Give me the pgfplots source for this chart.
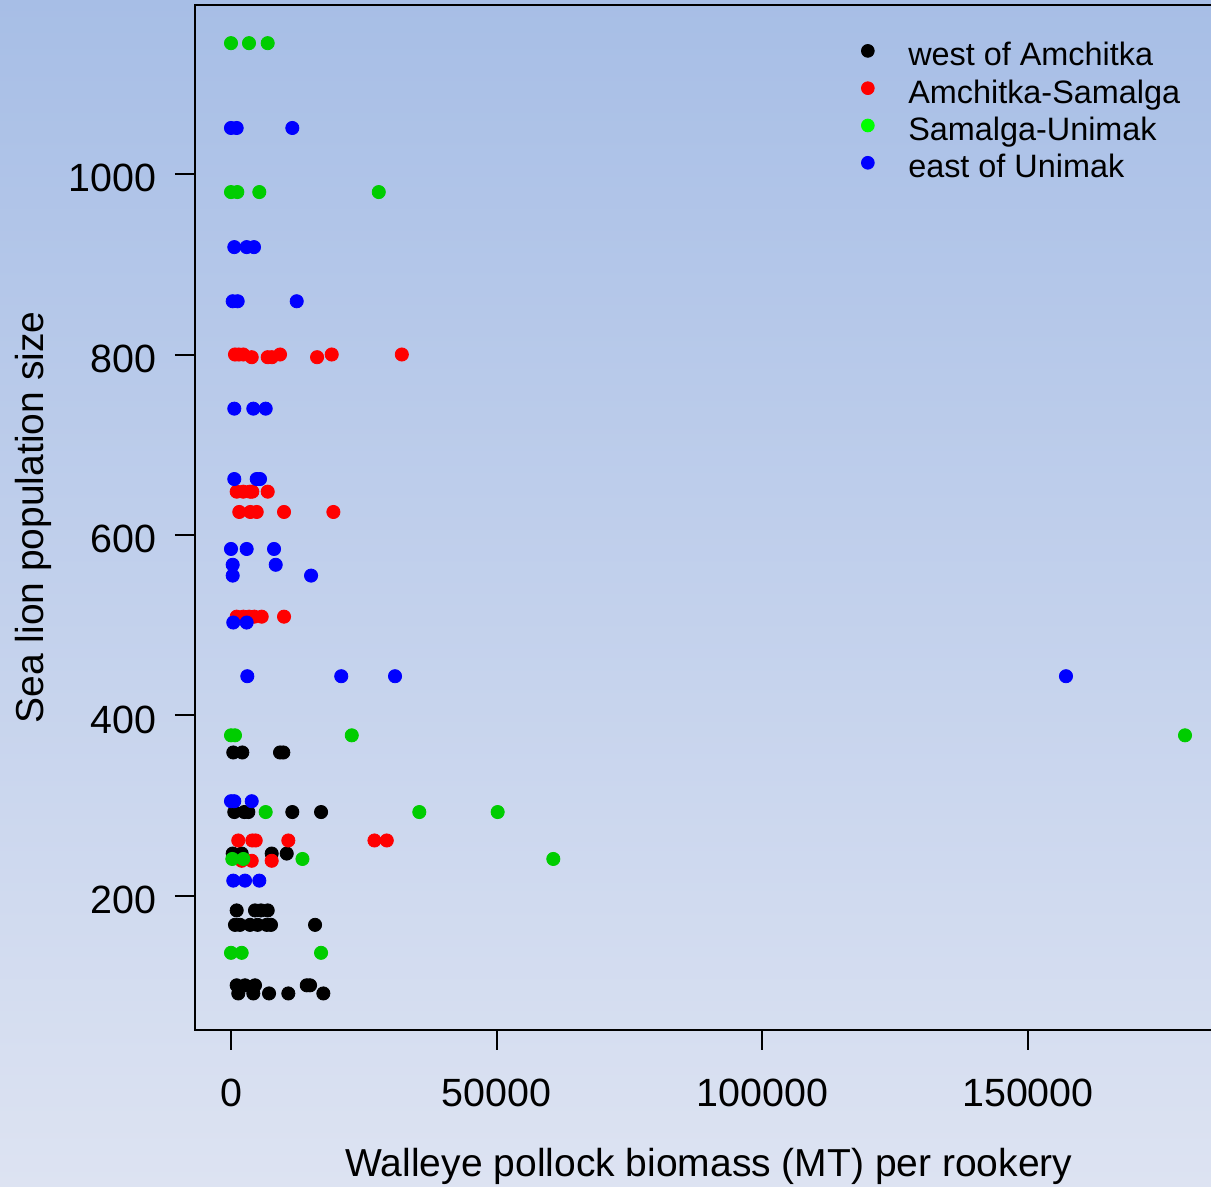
\documentclass[border=0pt]{standalone}
\usepackage{fontspec}
\setmainfont{Liberation Sans}
\usepackage{pgfplots}
\pgfplotsset{compat=1.18}
\definecolor{bgtop}{RGB}{167,190,230}
\definecolor{bgbot}{RGB}{221,227,242}
\definecolor{rgreen}{RGB}{0,205,0}
\definecolor{lgreen}{RGB}{0,255,0}
\definecolor{rred}{RGB}{255,0,0}
\definecolor{rblue}{RGB}{0,0,255}
\begin{document}
\begin{tikzpicture}
\path[use as bounding box] (0,0) rectangle (605.5pt,593.5pt);
\clip (0,0) rectangle (605.5pt,593.5pt);
\shade[top color=bgtop,bottom color=bgbot] (0,0) rectangle (605.5pt,593.5pt);
\begin{axis}[
  at={(97.5pt,78.5pt)}, anchor=south west,
  scale only axis, width=514pt, height=512.5pt,
  xmin=-6775, xmax=186700, ymin=51.5, ymax=1187.3,
  axis line style={line width=1.3pt},
  every tick/.style={line width=1pt, black},
  tick align=outside, major tick length=10pt,
  scaled x ticks=false, scaled y ticks=false,
  xtick={0,50000,100000,150000}, xticklabels={0,50000,100000,150000},
  ytick={200,400,600,800,1000}, yticklabels={200,400,600,800,1000},
  xtick pos=left, ytick pos=left,
  tick label style={font=\fontsize{19.7}{23}\selectfont, inner sep=0pt},
  xticklabel style={anchor=north, yshift=-14.5pt},
  yticklabel style={anchor=east, xshift=-9pt, yshift=-2pt},
  xlabel={Walleye pollock biomass (MT) per rookery},
  ylabel={Sea lion population size},
  label style={font=\fontsize{19.5}{23}\selectfont, inner sep=0pt},
  xlabel style={at={(axis description cs:0.5,-0.1434)}, anchor=base},
  ylabel style={at={(axis description cs:-0.1475,0.5)}, anchor=base},
  legend style={draw=none, fill=none, at={(rel axis cs:0.6483,0.9640)}, anchor=north west,
    inner sep=0pt, outer sep=0pt, column sep=17pt, row sep=3.65pt,
    font=\fontsize{16.2}{19}\selectfont,
    nodes={inner sep=0pt, text height=12pt, text depth=3pt},
    cells={anchor=base west}},
  legend image code/.code={\draw[#1] plot coordinates {(0pt,7.5pt)};},
]
\addplot[only marks, mark=*, mark size=3.3pt, color=black, forget plot] coordinates {
(430,359) (2130,359) (9230,359) (9850,359)
(620,293) (2500,293) (3260,293) (11540,293) (16950,293)
(320,247) (2010,247) (7660,247) (10490,247)
(1070,184) (4520,184) (5650,184) (6910,184)
(750,168) (1700,168) (3580,168) (5000,168) (6720,168) (7530,168) (15820,168)
(1070,101) (2640,101) (4520,101) (14260,101) (14880,101)
(1370,92) (4200,92) (7160,92) (10790,92) (17380,92)
};
\addplot[only marks, mark=*, mark size=3.3pt, color=rred, forget plot] coordinates {
(750,800) (1500,800) (2320,800) (3900,797) (6910,797) (7700,797) (9230,800) (16200,797) (18960,800) (32150,800)
(1070,648) (2320,648) (3580,648) (4010,648) (6910,648)
(1560,625.5) (3640,625.5) (4840,625.5) (9980,625.5) (19270,625.5)
(1070,509.5) (2320,509.5) (3400,509.5) (4390,509.5) (5780,509.5) (9980,509.5)
(1370,261.5) (4010,261.5) (4650,261.5) (10790,261.5) (27000,261.5) (29320,261.5)
(2010,239) (3900,239) (7660,239)
};
\addplot[only marks, mark=*, mark size=3.3pt, color=rgreen, forget plot] coordinates {
(0,1145) (3390,1145) (6910,1145)
(0,980) (1190,980) (5330,980) (27810,980)
(0,378) (750,378) (22730,378) (179550,378)
(6530,293) (35440,293) (50190,293)
(250,241) (2320,241) (13450,241) (60660,241)
(0,137) (2010,137) (16950,137)
};
\addplot[only marks, mark=*, mark size=3.3pt, color=rblue, forget plot] coordinates {
(0,1051) (1070,1051) (11540,1051)
(620,919) (2950,919) (4330,919)
(320,859) (1260,859) (12370,859)
(620,740) (4200,740) (6530,740)
(620,662) (4840,662) (5460,662)
(0,584.5) (2950,584.5) (8100,584.5)
(320,567) (8420,567)
(320,555) (15070,555)
(430,503) (2950,503)
(3070,443.5) (20750,443.5) (30870,443.5) (157150,443.5)
(0,305) (620,305) (3900,305)
(430,217) (2640,217) (5330,217)
};
\addlegendimage{only marks, mark=*, mark size=3.2pt, color=black}
\addlegendentry{west of Amchitka}
\addlegendimage{only marks, mark=*, mark size=3.2pt, color=rred}
\addlegendentry{Amchitka-Samalga}
\addlegendimage{only marks, mark=*, mark size=3.2pt, color=lgreen}
\addlegendentry{Samalga-Unimak}
\addlegendimage{only marks, mark=*, mark size=3.2pt, color=rblue}
\addlegendentry{east of Unimak}
\end{axis}
\end{tikzpicture}
\end{document}
